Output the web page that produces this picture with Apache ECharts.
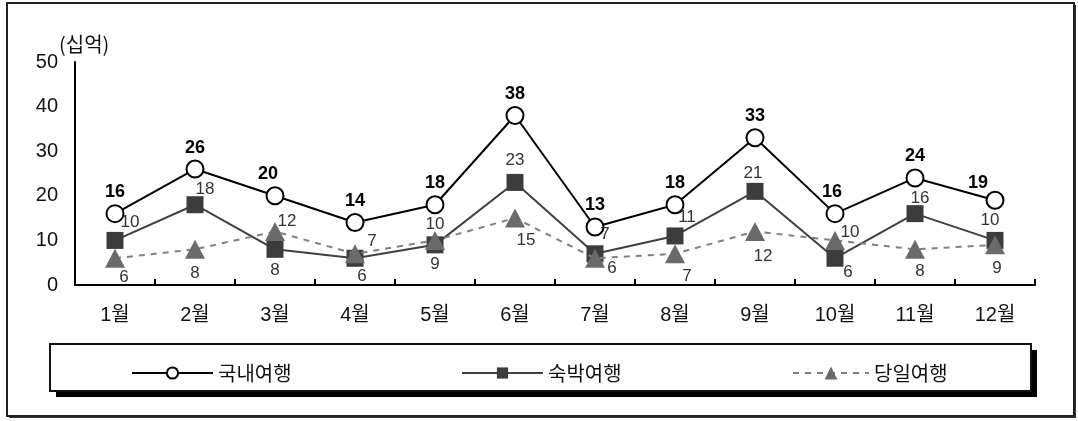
<!DOCTYPE html>
<html>
<head>
<meta charset="utf-8">
<script src="https://cdn.jsdelivr.net/npm/echarts@6/dist/echarts.min.js"></script>
<style>
  html, body { margin: 0; padding: 0; background: #fff; }
  #chart { width: 1078px; height: 421px; }
</style>
</head>
<body>
<div id="chart"></div>
<script>
// ---- data ----
const months = ['1월','2월','3월','4월','5월','6월','7월','8월','9월','10월','11월','12월'];
const domesticTrips = [16, 26, 20, 14, 18, 38, 13, 18, 33, 16, 24, 19];   // 국내여행
const overnightTrips = [10, 18, 8, 6, 9, 23, 7, 11, 21, 6, 16, 10];       // 숙박여행
const dayTrips = [6, 8, 12, 7, 10, 15, 6, 7, 12, 10, 8, 9];               // 당일여행
const seriesNames = ['국내여행', '숙박여행', '당일여행'];
const unitLabel = '(십억)';

// ---- label placement (style only) ----
const domesticLabelOffset = [[0,0],[0,0],[-7,0],[0,0],[0,0],[0,0],[0,0],[0,0],[0,0],[-3,0],[0,0],[-17,4]];
const overnightLabelOffset = [[15,-18],[10,-15],[0,21],[7,18],[0,19],[0,-22],[10,-19],[12,-19],[-2,-18],[13,14],[5,-15],[-5,-20]];
const dayLabelOffset = [[9,19],[0,24],[12,-10],[17,-12],[0,-16],[11,22],[17,10],[12,23],[8,25],[15,-8],[5,22],[2,23]];

const FONT = "'Liberation Sans', 'Noto Sans CJK KR', sans-serif";
const KFONT = "'Noto Sans CJK KR', sans-serif";

function withOffsets(values, offsets) {
  return values.map((v, i) => ({ value: v, label: { offset: offsets[i] } }));
}

const chart = echarts.init(document.getElementById('chart'), null, { renderer: 'canvas' });

const legendText = { fontSize: 20, color: '#111', fontFamily: KFONT };

const option = {
  backgroundColor: '#ffffff',
  animation: false,
  grid: { left: 75, right: 43, top: 62, bottom: 136, containLabel: false },
  xAxis: {
    type: 'category',
    data: months,
    boundaryGap: true,
    axisLine: { lineStyle: { color: '#000', width: 2 } },
    axisTick: { show: true, inside: true, length: 6, lineStyle: { color: '#000', width: 2 } },
    axisLabel: { color: '#111', fontSize: 20, fontFamily: FONT, margin: 20 }
  },
  yAxis: {
    type: 'value',
    min: 0, max: 50, interval: 10,
    axisLine: { show: true, lineStyle: { color: '#000', width: 2 } },
    axisTick: { show: false },
    splitLine: { show: false },
    axisLabel: { color: '#111', fontSize: 20, fontFamily: FONT, margin: 17 }
  },
  legend: [
    { data: [seriesNames[0]], left: 126, top: 358, itemWidth: 81, itemHeight: 14, textStyle: legendText },
    { data: [seriesNames[1]], left: 456, top: 358, itemWidth: 81, itemHeight: 14, textStyle: legendText },
    { data: [seriesNames[2]], left: 787, top: 358, itemWidth: 76, itemHeight: 16, textStyle: legendText }
  ],
  graphic: [
    // outer frame
    { type: 'rect', z: -10, shape: { x: 9, y: 5, width: 1067, height: 413 }, style: { fill: '#333' } },
    { type: 'rect', z: -9, shape: { x: 7, y: 3, width: 1067, height: 413 }, style: { fill: '#fff', stroke: '#222', lineWidth: 2 } },
    // legend box shadow + box
    { type: 'rect', z: -5, shape: { x: 56, y: 350, width: 981, height: 47 }, style: { fill: '#000' } },
    { type: 'rect', z: -4, shape: { x: 50, y: 344, width: 981, height: 47 }, style: { fill: '#fff', stroke: '#111', lineWidth: 2 } },
    // unit label
    { type: 'text', x: 59, y: 34, style: { text: unitLabel, fill: '#111', font: "20px 'Noto Sans CJK KR', sans-serif" } }
  ],
  series: [
    {
      name: seriesNames[0],
      type: 'line',
      data: withOffsets(domesticTrips, domesticLabelOffset),
      symbol: 'circle',
      symbolSize: 17,
      lineStyle: { color: '#000', width: 2 },
      itemStyle: { color: '#fff', borderColor: '#000', borderWidth: 2 },
      label: { show: true, position: 'top', distance: 3, color: '#000', fontSize: 18, fontWeight: 'bold', fontFamily: FONT },
      z: 3
    },
    {
      name: seriesNames[1],
      type: 'line',
      data: withOffsets(overnightTrips, overnightLabelOffset),
      symbol: 'rect',
      symbolSize: 17,
      lineStyle: { color: '#404040', width: 2 },
      itemStyle: { color: '#3c3c3c', borderWidth: 0 },
      label: { show: true, position: 'inside', color: '#333', fontSize: 17, fontFamily: FONT },
      z: 4
    },
    {
      name: seriesNames[2],
      type: 'line',
      data: withOffsets(dayTrips, dayLabelOffset),
      symbol: 'triangle',
      symbolSize: [20, 19],
      lineStyle: { color: '#808080', width: 2, type: [6, 6] },
      itemStyle: { color: '#6a6a6a', borderWidth: 0 },
      label: { show: true, position: 'inside', color: '#333', fontSize: 17, fontFamily: FONT },
      z: 5
    }
  ]
};

chart.setOption(option);
</script>
</body>
</html>
